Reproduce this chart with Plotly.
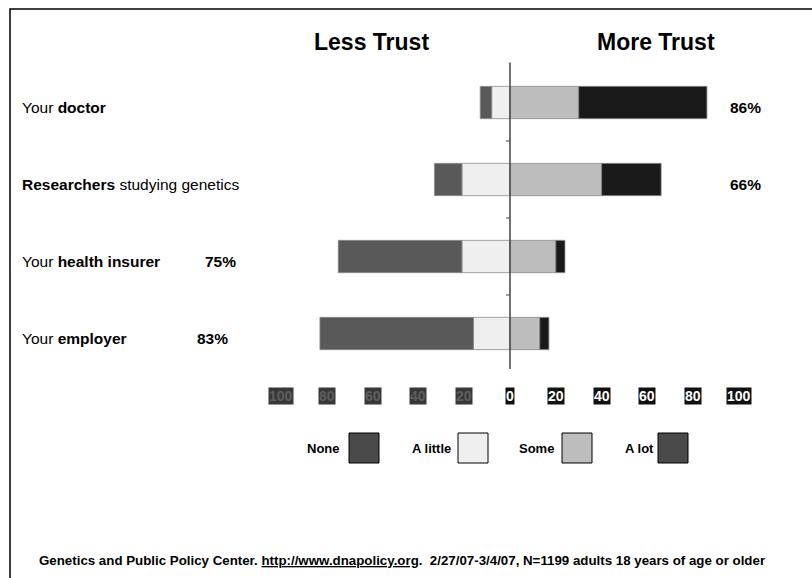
import plotly.graph_objects as go

# ---------------- data ----------------
category_labels = [
    "Your <b>doctor</b>",
    "<b>Researchers</b> studying genetics",
    "Your <b>health insurer</b>",
    "Your <b>employer</b>",
]
none_vals = [5, 12, 54, 67]
little_vals = [8, 21, 21, 16]
some_vals = [30, 40, 20, 13]
alot_vals = [56, 26, 4, 4]
pct_labels = ["86%", "66%", "75%", "83%"]
series_names = ["None", "A little", "Some", "A lot"]
tick_vals = [-100, -80, -60, -40, -20, 0, 20, 40, 60, 80, 100]
tick_labels = ["100", "80", "60", "40", "20", "0", "20", "40", "60", "80", "100"]
footnote = ("Genetics and Public Policy Center. <u>http://www.dnapolicy.org</u>.  "
            "2/27/07-3/4/07, N=1199 adults 18 years of age or older")

# ---------------- layout helpers ----------------
W, H = 812, 578
FONT = "Liberation Sans, Arial, sans-serif"
X0PX, SCALE = 510, 2.29          # pixel of zero, pixels per percent
Y0PX, STEP = 102.5, 77           # pixel of first category, pixels per category
x_range = [-X0PX / SCALE, (W - X0PX) / SCALE]
y_range = [(H - Y0PX) / STEP, -Y0PX / STEP]


def px(xp):
    return xp / W


def py(yp):
    return 1 - yp / H


y_idx = list(range(len(category_labels)))
bar_colors = {"None": "#595959", "A little": "#efefef", "Some": "#bdbdbd", "A lot": "#1a1a1a"}
legend_colors = ["#4a4a4a", "#efefef", "#bdbdbd", "#4a4a4a"]

fig = go.Figure()
series = [
    ("A little", [-v for v in little_vals]),
    ("None", [-v for v in none_vals]),
    ("Some", some_vals),
    ("A lot", alot_vals),
]
for name, vals in series:
    fig.add_trace(go.Bar(
        x=vals, y=y_idx, orientation="h", name=name, width=0.42,
        marker=dict(color=bar_colors[name], line=dict(color="#8c8c8c", width=0.8)),
        hoverinfo="skip", showlegend=False,
    ))

shapes = []
# vertical zero axis
shapes.append(dict(type="line", xref="x", yref="y", x0=0, x1=0, y0=-0.52, y1=3.46,
                   line=dict(color="#444444", width=1.5)))
for k in range(len(category_labels) - 1):
    shapes.append(dict(type="line", xref="x", yref="y", x0=-4 / SCALE, x1=0,
                       y0=k + 0.5, y1=k + 0.5, line=dict(color="#444444", width=1)))
# outer frame
shapes.append(dict(type="rect", xref="paper", yref="paper", x0=px(10), x1=1.2,
                   y0=-0.2, y1=py(9), line=dict(color="#000000", width=1.5)))

annotations = []


def note(text, xp, yp, size, color="#000", xanchor="center", **kw):
    d = dict(text=text, x=xp, y=yp, xref=kw.pop("xref", "paper"), yref=kw.pop("yref", "paper"),
             xanchor=xanchor, yanchor="middle", showarrow=False,
             font=dict(family=FONT, size=size, color=color))
    d.update(kw)
    annotations.append(d)


# titles
note("<b>Less Trust</b>", px(371), py(42), 23)
note("<b>More Trust</b>", px(656), py(42), 23)
# category labels
for i, lab in enumerate(category_labels):
    note(lab, px(20), i, 15.5, xanchor="left", yref="y", yshift=-5)
# percentage labels
pct_x = [745, 745, 220, 212]
for i, lab in enumerate(pct_labels):
    note("<b>" + lab + "</b>", px(pct_x[i]), i, 15.5, yref="y", yshift=-5)
# tick labels
for v, lab in zip(tick_vals, tick_labels):
    if v < 0:
        fcol, bg = "#5e5e5e", "#383838"
    else:
        fcol, bg = "#ffffff", "#111111"
    note("<b>" + lab + "</b>", v, py(396), 14, color=fcol, xref="x", bgcolor=bg, borderpad=0)
# legend
box_left = [349, 458, 562, 658]
label_right = [342, 453, 556, 656]
for i, name in enumerate(series_names):
    shapes.append(dict(type="rect", xref="paper", yref="paper",
                       x0=px(box_left[i]), x1=px(box_left[i] + 30), y0=py(463), y1=py(433),
                       fillcolor=legend_colors[i], line=dict(color="#000000", width=1)))
    note("<b>" + name + "</b>", px(label_right[i]), py(448), 13, xanchor="right")
# footnote
note("<b>" + footnote + "</b>", px(37), py(560), 13.3, xanchor="left")

fig.update_layout(
    width=W, height=H, margin=dict(l=0, r=0, t=0, b=0),
    paper_bgcolor="white", plot_bgcolor="white",
    barmode="relative", bargap=0,
    xaxis=dict(range=x_range, visible=False, fixedrange=True),
    yaxis=dict(range=y_range, visible=False, fixedrange=True),
    shapes=shapes, annotations=annotations, showlegend=False,
)

fig.write_html("out.html", config={"displayModeBar": False, "staticPlot": True},
               post_script="document.body.style.margin='0';")
